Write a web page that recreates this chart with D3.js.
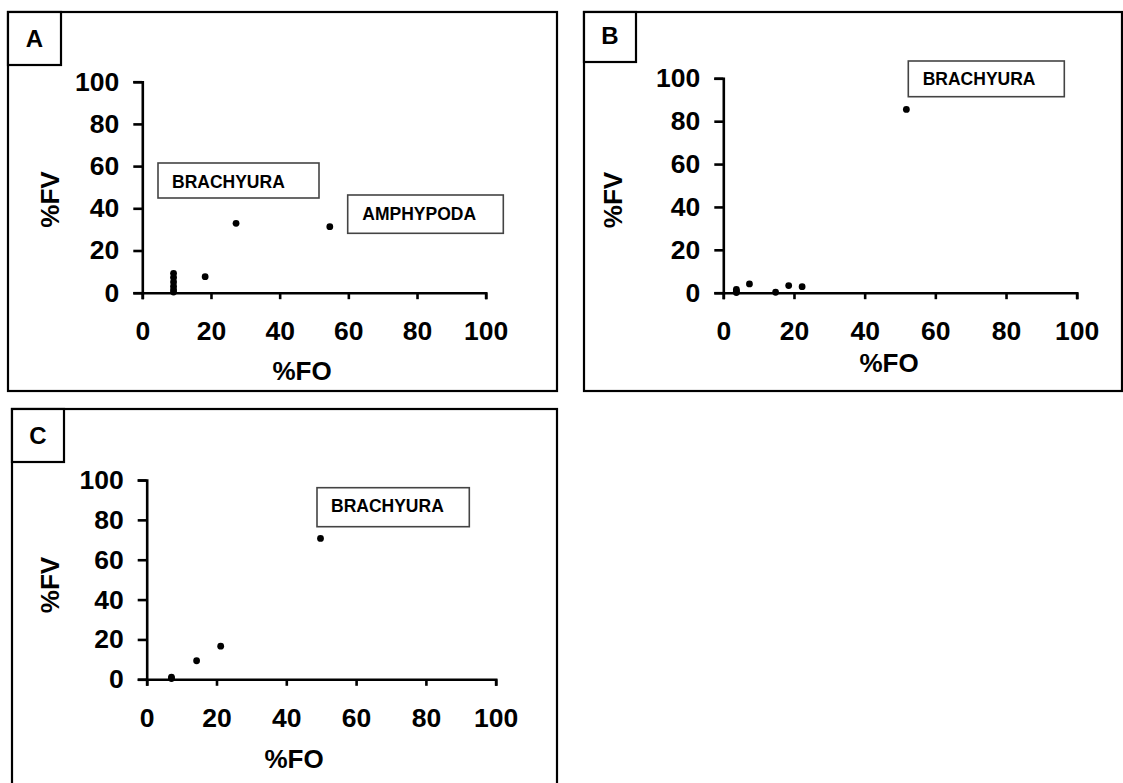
<!DOCTYPE html>
<html>
<head>
<meta charset="utf-8">
<script src="https://cdn.jsdelivr.net/npm/d3@7"></script>
<style>
  body { margin: 0; background: #fff; }
  svg { display: block; }
  text { font-family: "Liberation Sans", Arial, sans-serif; font-weight: bold; fill: #000; }
</style>
</head>
<body>
<svg id="chart" width="1123" height="783"></svg>
<script>
/////////////// data ////////////////
const TICK_VALS = [0, 20, 40, 60, 80, 100];
const PANEL_NAMES = ["A", "B", "C"];
const X_TITLE = "%FO";
const Y_TITLE = "%FV";
// panel A
const A_FO = [9.1, 9.1, 9.1, 9.1, 9.1, 9.1, 18.3, 27.3, 54.6];
const A_FV = [9.2, 7.2, 5.1, 3.1, 1.4, 0.3, 7.6, 32.9, 31.3];
const A_TAGS = ["BRACHYURA", "AMPHYPODA"];
// panel B
const B_FO = [3.7, 3.7, 3.7, 7.4, 14.8, 18.5, 22.3, 51.8];
const B_FV = [1.5, 0.7, 0.1, 4.1, 0.2, 3.3, 2.8, 85.5];
const B_TAGS = ["BRACHYURA"];
// panel C
const C_FO = [7.1, 7.1, 14.3, 21.2, 49.8];
const C_FV = [1.1, 0.4, 9.3, 16.6, 70.7];
const C_TAGS = ["BRACHYURA"];

/////////////// layout ////////////////
const TICK_FS = 26.5;
const TITLE_FS = 26;
const TAG_FS = 17.5;
const LETTER_FS = 24;
const DOT_R = 3.4;
const LAYOUT = [
    { fo: A_FO, fv: A_FV, tags: A_TAGS,
      frame: [8, 12, 557, 391], letter: [8, 12, 61, 65, 47],
      x0: 142.3, x1: 485.7, y0: 292.7, y1: 81.7,
      xTitle: [302, 380], yTitle: [50, 199.5],
      boxes: [[158, 163, 161, 35, 172, 188.3], [347.7, 195, 155.6, 38.3, 362.3, 220]] },
    { fo: B_FO, fv: B_FV, tags: B_TAGS,
      frame: [584, 12, 1122, 391], letter: [584, 12, 636, 62, 43.5],
      x0: 723.3, x1: 1076.7, y0: 292.7, y1: 78.3,
      xTitle: [889, 372], yTitle: [613, 200],
      boxes: [[908.3, 61, 156, 35.7, 922.7, 85]] },
    { fo: C_FO, fv: C_FV, tags: C_TAGS,
      frame: [12, 409, 557, 795], letter: [12, 409, 64, 462, 443.5],
      x0: 146.7, x1: 495.7, y0: 679.3, y1: 480,
      xTitle: [294, 768], yTitle: [50, 585],
      boxes: [[317, 487.7, 152.3, 39, 331, 512.3]] }
];

const SVG = d3.select("#chart");

/////////////// draw one panel ////////////////
function drawPanel(p, i) {
    const grp = SVG.append("g").attr("id", `panel${PANEL_NAMES[i]}`);
    // outer frame
    grp.append("rect")
        .attr("x", p.frame[0]).attr("y", p.frame[1])
        .attr("width", p.frame[2] - p.frame[0])
        .attr("height", p.frame[3] - p.frame[1])
        .attr("fill", "none").attr("stroke", "#000").attr("stroke-width", 2.2);
    // letter box
    grp.append("rect")
        .attr("x", p.letter[0]).attr("y", p.letter[1])
        .attr("width", p.letter[2] - p.letter[0])
        .attr("height", p.letter[3] - p.letter[1])
        .attr("fill", "#fff").attr("stroke", "#000").attr("stroke-width", 2.2);
    grp.append("text")
        .attr("x", (p.letter[0] + p.letter[2]) / 2)
        .attr("y", p.letter[4])
        .attr("text-anchor", "middle")
        .attr("font-size", LETTER_FS)
        .text(PANEL_NAMES[i]);

    const sclX = d3.scaleLinear().domain([0, 100]).range([p.x0, p.x1]);
    const sclY = d3.scaleLinear().domain([0, 100]).range([p.y0, p.y1]);

    // axes
    const xAxis = d3.axisBottom(sclX).tickValues(TICK_VALS)
        .tickSize(6.5).tickSizeOuter(6.5).tickPadding(22);
    const yAxis = d3.axisLeft(sclY).tickValues(TICK_VALS)
        .tickSize(9).tickSizeOuter(9).tickPadding(14);
    const gx = grp.append("g").attr("transform", `translate(0, ${p.y0})`).call(xAxis);
    const gy = grp.append("g").attr("transform", `translate(${p.x0}, 0)`).call(yAxis);
    [gx, gy].forEach(g => {
        g.selectAll("path, line").attr("stroke", "#000").attr("stroke-width", 2.6);
        g.selectAll("text")
            .attr("fill", "#000")
            .attr("font-size", TICK_FS)
            .attr("font-family", "'Liberation Sans', Arial, sans-serif")
            .attr("font-weight", "bold");
    });

    // axis titles
    grp.append("text")
        .attr("x", p.xTitle[0]).attr("y", p.xTitle[1])
        .attr("text-anchor", "middle")
        .attr("font-size", TITLE_FS)
        .text(X_TITLE);
    grp.append("text")
        .attr("transform", `translate(${p.yTitle[0]}, ${p.yTitle[1]}) rotate(-90)`)
        .attr("text-anchor", "middle")
        .attr("dy", "0.36em")
        .attr("font-size", TITLE_FS)
        .text(Y_TITLE);

    // tag boxes
    p.tags.forEach((t, j) => {
        const b = p.boxes[j];
        grp.append("rect")
            .attr("x", b[0]).attr("y", b[1])
            .attr("width", b[2]).attr("height", b[3])
            .attr("fill", "#fff").attr("stroke", "#444").attr("stroke-width", 1.6);
        grp.append("text")
            .attr("x", b[4]).attr("y", b[5])
            .attr("font-size", TAG_FS)
            .text(t);
    });

    // points
    grp.append("g")
        .selectAll("circle")
        .data(d3.zip(p.fo, p.fv))
        .enter()
        .append("circle")
        .attr("cx", d => sclX(d[0]))
        .attr("cy", d => sclY(d[1]))
        .attr("r", DOT_R)
        .attr("fill", "#000");
}

LAYOUT.forEach(drawPanel);
</script>
</body>
</html>
